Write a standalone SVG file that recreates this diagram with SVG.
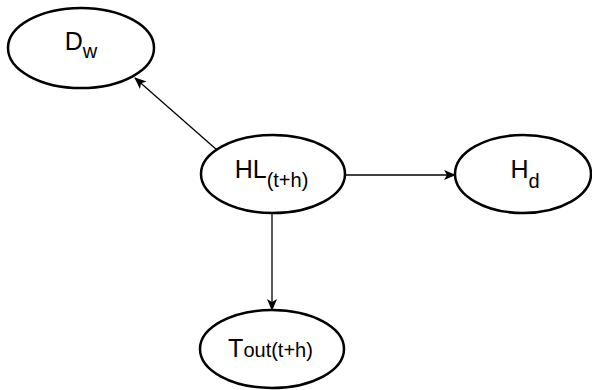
<svg xmlns="http://www.w3.org/2000/svg" width="592" height="390" viewBox="0 0 592 390">
  <style>
    .node ellipse { fill: #ffffff; stroke: #000000; stroke-width: 2.5; }
    .node text { font-family: "Liberation Sans", Arial, sans-serif; font-size: 25px; fill: #000000; text-anchor: middle; }
    .sub { font-size: 20px; }
    .edge { stroke: #000000; stroke-width: 1.3; fill: none; marker-end: url(#arrow); }
  </style>
  <defs>
    <marker id="arrow" viewBox="0 0 12 10" refX="11" refY="5" markerWidth="12" markerHeight="10" markerUnits="userSpaceOnUse" orient="auto">
      <path d="M0,0 L12,5 L0,10 L3,5 Z" fill="#000000"/>
    </marker>
  </defs>

  <g id="connectors">
    <line class="edge" x1="217" y1="150" x2="135" y2="78"/>
    <line class="edge" x1="345" y1="175" x2="455" y2="175"/>
    <line class="edge" x1="272" y1="213" x2="272" y2="310"/>
  </g>

  <g id="node-dw" class="node">
    <ellipse cx="81" cy="48" rx="73" ry="40"/>
    <text x="81" y="50">D<tspan class="sub" dy="8">w</tspan></text>
  </g>

  <g id="node-hl" class="node">
    <ellipse cx="273" cy="174" rx="72" ry="39"/>
    <text x="271.5" y="178">HL<tspan class="sub" dy="9">(t+h)</tspan></text>
  </g>

  <g id="node-hd" class="node">
    <ellipse cx="523" cy="174" rx="68" ry="39"/>
    <text x="525" y="178">H<tspan class="sub" dy="10">d</tspan></text>
  </g>

  <g id="node-tout" class="node">
    <ellipse cx="272" cy="349" rx="72" ry="39"/>
    <text x="270.5" y="357">T<tspan class="sub">out(t+h)</tspan></text>
  </g>
</svg>
